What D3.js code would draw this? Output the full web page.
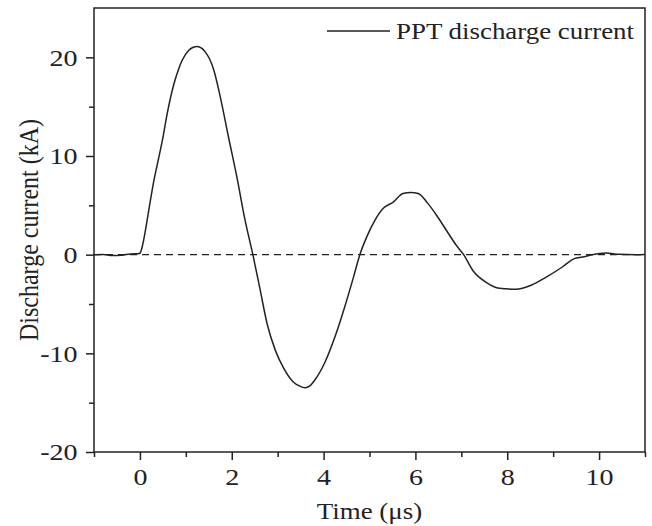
<!DOCTYPE html>
<html>
<head>
<meta charset="utf-8">
<script src="https://cdn.jsdelivr.net/npm/d3@7"></script>
<style>
  html, body { margin: 0; padding: 0; background: #fff; }
  svg { display: block; }
  text { font-family: "Liberation Serif", "Times New Roman", serif; fill: #222; }
</style>
</head>
<body>
<div id="chart"></div>
<script>
// ---- data ----
const timeUs = [-1, -0.8, -0.6, -0.4, -0.2, -0.05, 0.0, 0.05, 0.12, 0.2, 0.3, 0.4, 0.49, 0.59, 0.74, 0.85, 0.92, 1.06, 1.15, 1.25, 1.35, 1.43, 1.52, 1.61, 1.75, 1.93, 2.11, 2.29, 2.46, 2.62, 2.77, 2.95, 3.13, 3.34, 3.47, 3.6, 3.7, 3.81, 4.03, 4.25, 4.46, 4.65, 4.79, 4.94, 5.12, 5.30, 5.51, 5.73, 5.9, 6.06, 6.27, 6.46, 6.67, 6.89, 7.05, 7.25, 7.54, 7.83, 8.19, 8.52, 8.84, 9.2, 9.46, 9.64, 9.85, 10.15, 10.43, 10.8, 11];
const currentKA = [0, 0.02, -0.08, -0.05, 0.08, 0.1, 0.15, 0.8, 2.46, 4.7, 7.4, 9.6, 11.6, 14.2, 17.3, 18.9, 19.7, 20.7, 21.0, 21.1, 20.9, 20.5, 19.8, 18.7, 16.0, 11.9, 7.9, 3.5, 0, -3.6, -7.0, -9.7, -11.5, -12.9, -13.3, -13.5, -13.3, -12.7, -10.9, -8.3, -5.3, -2.3, 0, 1.8, 3.5, 4.7, 5.3, 6.2, 6.3, 6.2, 5.2, 4.0, 2.5, 0.95, 0, -1.6, -2.8, -3.4, -3.5, -3.1, -2.3, -1.25, -0.4, -0.24, 0, 0.17, 0.03, 0.0, 0.02];
const xTicksMajor = [0, 2, 4, 6, 8, 10];
const xTicksMinor = [-1, 1, 3, 5, 7, 9, 11];
const yTicksMajor = [-20, -10, 0, 10, 20];
const yTicksMinor = [-15, -5, 5, 15];
const seriesName = "PPT discharge current";
const xLabel = "Time (\u03bcs)";
const yLabel = "Discharge current (kA)";

// ---- layout ----
const W = 652, H = 526;
const m = { left: 94, right: 7, top: 8, bottom: 74 };
const iw = W - m.left - m.right, ih = H - m.top - m.bottom;
const sx = 1.17; // horizontal stretch of the reference's lettering

const svg = d3.select("#chart").append("svg").attr("width", W).attr("height", H);
const g = svg.append("g").attr("transform", `translate(${m.left},${m.top})`);

const x = d3.scaleLinear().domain([-1, 11]).range([0, iw]);
const y = d3.scaleLinear().domain([-20, 25]).range([ih, 0]);

const ink = "#222";
const fmt = d => String(d); // plain hyphen-minus as in the reference

// zero dashed line
g.append("line")
  .attr("x1", 0).attr("x2", iw)
  .attr("y1", y(0)).attr("y2", y(0))
  .attr("stroke", ink).attr("stroke-width", 1.3)
  .attr("stroke-dasharray", "7,5");

// curve
const line = d3.line().x((d, i) => x(timeUs[i])).y(d => y(d)).curve(d3.curveMonotoneX);
g.append("path")
  .datum(currentKA)
  .attr("d", line)
  .attr("fill", "none")
  .attr("stroke", ink)
  .attr("stroke-width", 1.5);

// axes
const fs = 24;
const xAxis = g.append("g").attr("transform", `translate(0,${ih})`)
  .call(d3.axisBottom(x).tickValues(xTicksMajor).tickSize(8).tickPadding(8).tickFormat(fmt));
const xMinor = g.append("g").attr("transform", `translate(0,${ih})`)
  .call(d3.axisBottom(x).tickValues(xTicksMinor).tickSize(5).tickFormat(""));
const yAxis = g.append("g")
  .call(d3.axisLeft(y).tickValues(yTicksMajor).tickSize(8).tickPadding(6).tickFormat(fmt));
const yMinor = g.append("g")
  .call(d3.axisLeft(y).tickValues(yTicksMinor).tickSize(5).tickFormat(""));

[xAxis, xMinor, yAxis, yMinor].forEach(a => {
  a.select(".domain").remove();
  a.selectAll(".tick line").attr("stroke", ink).attr("stroke-width", 1.5);
  a.selectAll("text")
    .attr("font-size", fs)
    .attr("font-family", "Liberation Serif, Times New Roman, serif")
    .attr("fill", ink)
    .attr("transform", `scale(${sx},1)`);
});

// frame
g.append("rect")
  .attr("x", 0).attr("y", 0).attr("width", iw).attr("height", ih)
  .attr("fill", "none").attr("stroke", ink).attr("stroke-width", 1.5);

// axis titles
svg.append("text")
  .attr("transform", `translate(${m.left + iw / 2},519) scale(${sx},1)`)
  .attr("text-anchor", "middle").attr("font-size", 23)
  .text(xLabel);
svg.append("text")
  .attr("transform", `translate(38,${m.top + ih / 2}) scale(${sx},1) rotate(-90)`)
  .attr("text-anchor", "middle").attr("font-size", 24)
  .text(yLabel);

// legend
svg.append("line")
  .attr("x1", 327).attr("x2", 390).attr("y1", 31).attr("y2", 31)
  .attr("stroke", ink).attr("stroke-width", 1.5);
svg.append("text")
  .attr("transform", `translate(396,39) scale(${sx},1)`)
  .attr("font-size", 23)
  .text(seriesName);
</script>
</body>
</html>
